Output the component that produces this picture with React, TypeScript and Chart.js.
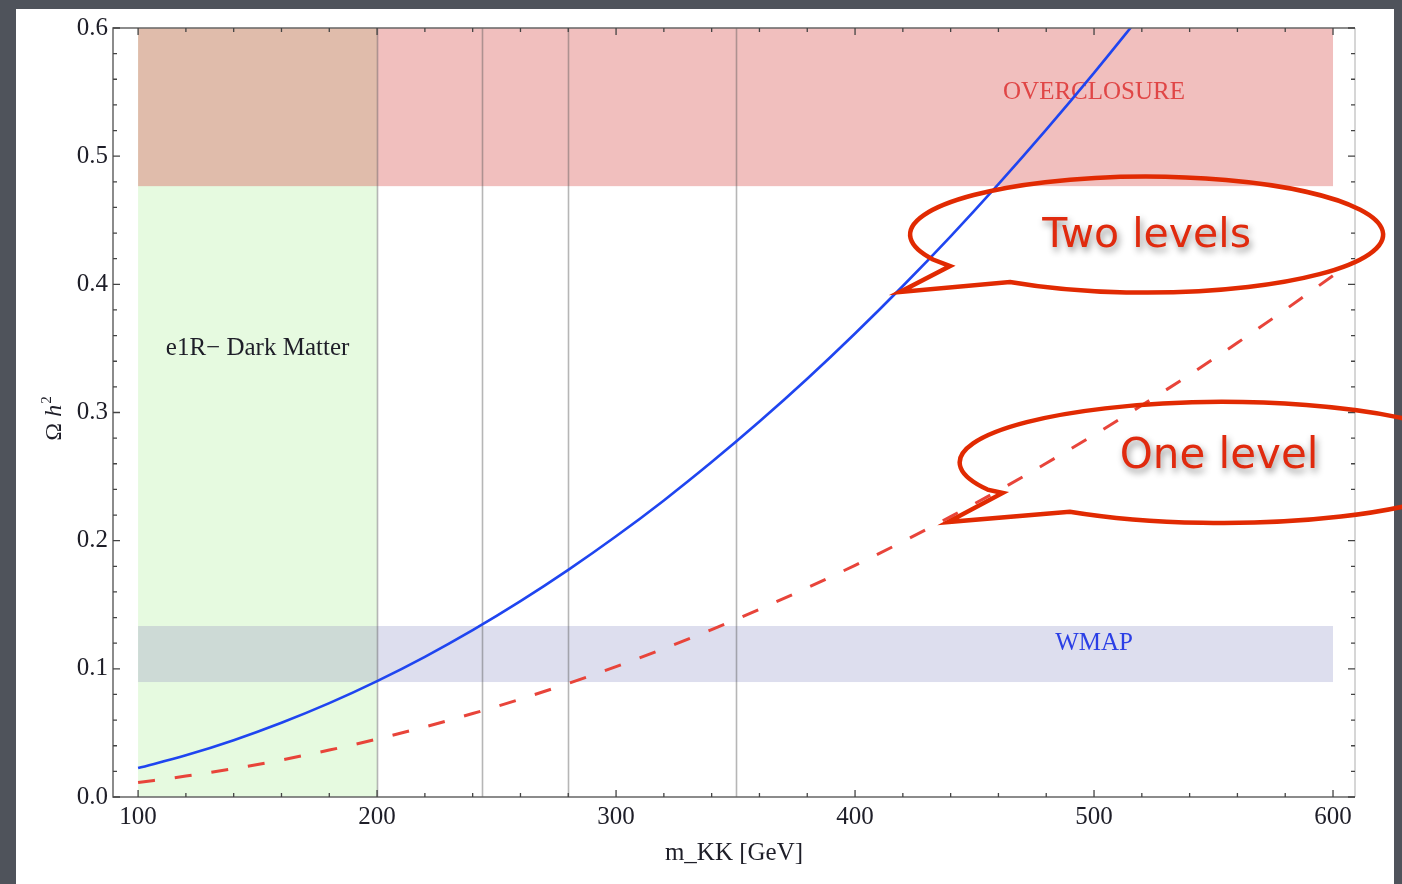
import React, { useEffect, useRef } from "react";
import { Chart, registerables } from "chart.js";

Chart.register(...registerables);

// Kaluza-Klein mass grid (GeV) and relic abundance Ωh² of the e1R candidate
const massGeV = [
  100, 120, 140, 160, 180, 200, 220, 240, 260, 280, 300, 320, 340,
  360, 380, 400, 420, 440, 460, 480, 500, 520, 540, 560, 580, 600,
];
// Ωh² with two KK levels included (leaves the frame just above 510 GeV)
const omegaTwoLevels = [
  0.0226, 0.0325, 0.0443, 0.0579, 0.0732, 0.0904, 0.1094, 0.1302, 0.1528,
  0.1772, 0.2034, 0.2314, 0.2613, 0.2929, 0.3263, 0.3616, 0.3987, 0.4375,
  0.4782, 0.5207, 0.565, 0.611,
];
// Ωh² with only the first KK level
const omegaOneLevel = [
  0.0113, 0.0163, 0.0221, 0.0289, 0.0366, 0.0452, 0.0547, 0.0651, 0.0764,
  0.0886, 0.1017, 0.1157, 0.1306, 0.1465, 0.1632, 0.1808, 0.1993, 0.2188,
  0.2391, 0.2604, 0.2825, 0.3056, 0.3295, 0.3544, 0.3802, 0.4068,
];

const xTickValues = [100, 200, 300, 400, 500, 600];
const yTickValues = [0, 0.1, 0.2, 0.3, 0.4, 0.5, 0.6];

// Shaded regions
const darkMatterMass = [100, 200];
const bandMass = [100, 600];
const overclosureOmega = [0.4766, 0.6];
const wmapOmega = [0.0897, 0.1334];
const referenceMasses = [200, 244, 280, 350];

const regionLabels = ["OVERCLOSURE", "WMAP", "e1R\u2212 Dark Matter"];
const regionLabelMass = [500, 500, 150];
const regionLabelOmega = [0.55, 0.12, 0.35];

// Call-out bubbles
const bubbleTexts = ["Two levels", "One level"];
const bubbleTipMass = [418.8, 438.9];
const bubbleTipOmega = [0.394, 0.2145];
const bubbleCenterMass = [522, 554];
const bubbleCenterOmega = [0.4388, 0.261];

const SERIF = '"Liberation Serif", "Times New Roman", serif';
const INK = "#1e1e28";

const slideBackground = {
  id: "slideBackground",
  beforeDraw(chart: any) {
    const ctx = chart.ctx;
    ctx.save();
    ctx.fillStyle = "#4f535b";
    ctx.fillRect(0, 0, chart.width, chart.height);
    ctx.fillStyle = "#ffffff";
    ctx.fillRect(16, 9, 1378, chart.height - 9);
    ctx.restore();
  },
};

const regions = {
  id: "regions",
  beforeDatasetsDraw(chart: any) {
    const ctx = chart.ctx;
    const { x, y } = chart.scales;
    const px = (v: number) => x.getPixelForValue(v);
    const py = (v: number) => y.getPixelForValue(v);
    const rect = (x0: number, x1: number, y0: number, y1: number, color: string) => {
      ctx.fillStyle = color;
      ctx.fillRect(px(x0), py(y1), px(x1) - px(x0), py(y0) - py(y1));
    };
    ctx.save();
    rect(darkMatterMass[0], darkMatterMass[1], 0, 0.6, "#e6fae0");
    rect(darkMatterMass[1], bandMass[1], overclosureOmega[0], overclosureOmega[1], "#f1bfbe");
    rect(darkMatterMass[0], darkMatterMass[1], overclosureOmega[0], overclosureOmega[1], "#e0bcab");
    rect(darkMatterMass[1], bandMass[1], wmapOmega[0], wmapOmega[1], "#dddeee");
    rect(darkMatterMass[0], darkMatterMass[1], wmapOmega[0], wmapOmega[1], "#cddad6");

    ctx.strokeStyle = "rgba(80,80,80,0.42)";
    ctx.lineWidth = 1.6;
    referenceMasses.forEach((m) => {
      const xp = Math.round(px(m)) + 0.5;
      ctx.beginPath();
      ctx.moveTo(xp, py(0));
      ctx.lineTo(xp, py(0.6));
      ctx.stroke();
    });

    ctx.font = `25px ${SERIF}`;
    ctx.textAlign = "center";
    ctx.textBaseline = "middle";
    const colors = ["#e04646", "#2b3fe6", INK];
    regionLabels.forEach((t, i) => {
      ctx.fillStyle = colors[i];
      ctx.fillText(t, px(regionLabelMass[i]), py(regionLabelOmega[i]));
    });
    ctx.restore();
  },
};

const frame = {
  id: "frame",
  afterDatasetsDraw(chart: any) {
    const ctx = chart.ctx;
    const { left, right, top, bottom } = chart.chartArea;
    const { x, y } = chart.scales;
    ctx.save();
    ctx.lineWidth = 1.5;
    ctx.strokeStyle = "#c8c8c8";
    ctx.beginPath();
    ctx.moveTo(right, top);
    ctx.lineTo(right, bottom);
    ctx.stroke();
    ctx.strokeStyle = "#666666";
    ctx.beginPath();
    ctx.moveTo(right, top);
    ctx.lineTo(left, top);
    ctx.lineTo(left, bottom);
    ctx.lineTo(right, bottom);
    ctx.stroke();

    ctx.strokeStyle = "#444444";
    ctx.lineWidth = 1.3;
    for (let m = 100; m <= 600; m += 20) {
      const major = m % 100 === 0;
      const len = major ? 7 : 4;
      const xp = x.getPixelForValue(m);
      ctx.beginPath();
      ctx.moveTo(xp, bottom);
      ctx.lineTo(xp, bottom - len);
      ctx.moveTo(xp, top);
      ctx.lineTo(xp, top + len);
      ctx.stroke();
    }
    for (let i = 0; i <= 30; i++) {
      const major = i % 5 === 0;
      const len = major ? 7 : 4;
      const yp = y.getPixelForValue(i * 0.02);
      ctx.beginPath();
      ctx.moveTo(left, yp);
      ctx.lineTo(left + len, yp);
      ctx.moveTo(right, yp);
      ctx.lineTo(right - len, yp);
      ctx.stroke();
    }

    // Ω h² axis title
    ctx.translate(61, (top + bottom) / 2 + 6);
    ctx.rotate(-Math.PI / 2);
    ctx.fillStyle = INK;
    ctx.textBaseline = "alphabetic";
    ctx.textAlign = "left";
    const fUp = `24px ${SERIF}`;
    const fIt = `italic 24px ${SERIF}`;
    const fSup = `15px ${SERIF}`;
    ctx.font = fUp;
    const w1 = ctx.measureText("\u03A9 ").width;
    ctx.font = fIt;
    const w2 = ctx.measureText("h").width;
    ctx.font = fSup;
    const w3 = ctx.measureText("2").width;
    const sx = -(w1 + w2 + w3 + 1) / 2;
    ctx.font = fUp;
    ctx.fillText("\u03A9 ", sx, 0);
    ctx.font = fIt;
    ctx.fillText("h", sx + w1, 0);
    ctx.font = fSup;
    ctx.fillText("2", sx + w1 + w2 + 1, -10);
    ctx.restore();
  },
};

// bubble outline shape (pixels)
const bubbleRadiusX = [236.5, 263.4];
const bubbleRadiusY = [58, 60.5];
const bubbleNotch = [
  [-196.5, 31.5],
  [-220.4, 30.5],
];
const bubbleArc = [
  [154.6, 125.3],
  [153.4, 125.6],
];
const bubbleTextOffset = [
  [0, 12.5],
  [-4, 5.5],
];
const bubbleFontSize = [41, 42];

const callouts = {
  id: "callouts",
  afterDraw(chart: any) {
    const ctx = chart.ctx;
    const { x, y } = chart.scales;
    ctx.save();
    bubbleTexts.forEach((text, i) => {
      const cx = x.getPixelForValue(bubbleCenterMass[i]);
      const cy = y.getPixelForValue(bubbleCenterOmega[i]);
      const tx = x.getPixelForValue(bubbleTipMass[i]);
      const ty = y.getPixelForValue(bubbleTipOmega[i]);
      const a0 = (bubbleArc[i][0] * Math.PI) / 180;
      const a1 = (bubbleArc[i][1] * Math.PI) / 180 + 2 * Math.PI;
      ctx.strokeStyle = "#e12a02";
      ctx.lineWidth = 4.5;
      ctx.lineJoin = "miter";
      ctx.beginPath();
      ctx.ellipse(cx, cy, bubbleRadiusX[i], bubbleRadiusY[i], 0, a0, a1, false);
      ctx.lineTo(tx, ty);
      ctx.lineTo(cx + bubbleNotch[i][0], cy + bubbleNotch[i][1]);
      ctx.closePath();
      ctx.stroke();

      ctx.save();
      ctx.font = `${bubbleFontSize[i]}px "DejaVu Sans", sans-serif`;
      ctx.textAlign = "center";
      ctx.textBaseline = "alphabetic";
      ctx.shadowColor = "rgba(0,0,0,0.45)";
      ctx.shadowBlur = 7;
      ctx.shadowOffsetX = 2;
      ctx.shadowOffsetY = 4;
      ctx.fillStyle = "#e02a0e";
      ctx.fillText(text, cx + bubbleTextOffset[i][0], cy + bubbleTextOffset[i][1]);
      ctx.restore();
    });
    ctx.restore();
  },
};

export default function App() {
  const canvasRef = useRef<HTMLCanvasElement | null>(null);

  useEffect(() => {
    const canvas = canvasRef.current;
    if (!canvas) return;
    const chart = new Chart(canvas, {
      type: "line",
      data: {
        datasets: [
          {
            label: "Two levels",
            data: omegaTwoLevels.map((v, i) => ({ x: massGeV[i], y: v })),
            borderColor: "#1f45f0",
            borderWidth: 2.6,
            pointRadius: 0,
            cubicInterpolationMode: "monotone",
            fill: false,
            clip: 0,
          },
          {
            label: "One level",
            data: omegaOneLevel.map((v, i) => ({ x: massGeV[i], y: v })),
            borderColor: "#e8443a",
            borderWidth: 3,
            borderDash: [17, 20],
            pointRadius: 0,
            cubicInterpolationMode: "monotone",
            fill: false,
            clip: 0,
          },
        ],
      },
      options: {
        animation: false,
        responsive: false,
        devicePixelRatio: 1,
        layout: { padding: { left: 0, top: 28, right: 47, bottom: 0 } },
        plugins: {
          legend: { display: false },
          tooltip: { enabled: false },
        },
        scales: {
          x: {
            type: "linear",
            position: "bottom",
            min: 89.5,
            max: 609.2,
            grid: { display: false, drawTicks: false },
            border: { display: false },
            afterBuildTicks: (scale: any) => {
              scale.ticks = xTickValues.map((v) => ({ value: v }));
            },
            afterFit: (scale: any) => {
              scale.height = 87;
            },
            ticks: {
              color: INK,
              font: { family: SERIF, size: 25 },
              padding: 5,
              maxRotation: 0,
              autoSkip: false,
              callback: (v: any) => String(v),
            },
            title: {
              display: true,
              text: "m_KK [GeV]",
              color: INK,
              font: { family: SERIF, size: 25 },
              padding: { top: 0, bottom: 16 },
            },
          },
          y: {
            type: "linear",
            position: "left",
            min: 0,
            max: 0.6,
            grid: { display: false, drawTicks: false },
            border: { display: false },
            afterBuildTicks: (scale: any) => {
              scale.ticks = yTickValues.map((v) => ({ value: v }));
            },
            afterFit: (scale: any) => {
              scale.width = 113;
            },
            ticks: {
              color: INK,
              font: { family: SERIF, size: 25 },
              padding: 5,
              callback: (v: any) => Number(v).toFixed(1),
            },
          },
        },
      },
      plugins: [slideBackground, regions, frame, callouts],
    } as any);
    return () => chart.destroy();
  }, []);

  return (
    <div style={{ position: "fixed", left: 0, top: 0, width: 1402, height: 884 }}>
      <canvas ref={canvasRef} width={1402} height={884} style={{ display: "block" }} />
    </div>
  );
}
